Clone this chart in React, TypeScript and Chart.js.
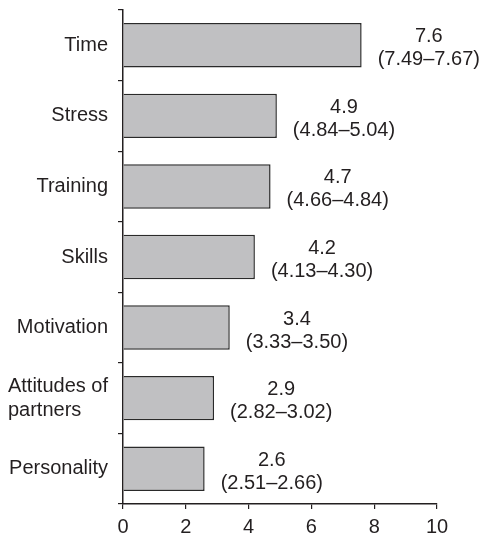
import React, { useEffect, useRef } from "react";
import { Chart, registerables } from "chart.js";

Chart.register(...registerables);

const categories: (string | string[])[] = [
  "Time",
  "Stress",
  "Training",
  "Skills",
  "Motivation",
  ["Attitudes of", "partners"],
  "Personality",
];
const values = [7.6, 4.9, 4.7, 4.2, 3.4, 2.9, 2.6];
const ranges = [
  "(7.49–7.67)",
  "(4.84–5.04)",
  "(4.66–4.84)",
  "(4.13–4.30)",
  "(3.33–3.50)",
  "(2.82–3.02)",
  "(2.51–2.66)",
];
const xTicks = [0, 2, 4, 6, 8, 10];

const FONT = "'Liberation Sans', Arial, Helvetica, sans-serif";
const TEXT = "#231f20";
const FS = 20;

const labelPlugin = {
  id: "valueLabels",
  afterDatasetsDraw(chart: any) {
    const ctx = chart.ctx;
    const meta = chart.getDatasetMeta(0);
    ctx.save();
    ctx.font = `${FS}px ${FONT}`;
    ctx.fillStyle = TEXT;
    ctx.textAlign = "center";
    ctx.textBaseline = "middle";
    meta.data.forEach((bar: any, i: number) => {
      const w = ctx.measureText(ranges[i]).width;
      const cx = bar.x + 16 + w / 2;
      ctx.fillText(String(values[i]), cx, bar.y - 8.5);
      ctx.fillText(ranges[i], cx, bar.y + 14.5);
    });
    ctx.restore();
  },
};

const categoryLabelPlugin = {
  id: "categoryLabels",
  afterDraw(chart: any) {
    const ctx = chart.ctx;
    const yScale = chart.scales.y;
    const right = yScale.right - 15;
    const lh = 24;
    ctx.save();
    ctx.font = `${FS}px ${FONT}`;
    ctx.fillStyle = TEXT;
    ctx.textAlign = "left";
    ctx.textBaseline = "middle";
    categories.forEach((lab, i) => {
      const lines = Array.isArray(lab) ? lab : [lab];
      const bw = Math.max(...lines.map((l) => ctx.measureText(l).width));
      const y = yScale.getPixelForTick(i);
      const y0 = y - ((lines.length - 1) * lh) / 2;
      lines.forEach((l, k) => ctx.fillText(l, right - bw, y0 + k * lh));
    });
    ctx.restore();
  },
};

export default function App() {
  const ref = useRef<HTMLCanvasElement>(null);
  useEffect(() => {
    if (!ref.current) return;
    const chart = new Chart(ref.current, {
      type: "bar",
      data: {
        labels: categories,
        datasets: [
          {
            data: values,
            backgroundColor: "#c0c0c2",
            borderColor: "#2a2a2a",
            borderWidth: 1.5,
            barPercentage: 0.63,
            categoryPercentage: 1,
          },
        ],
      },
      options: {
        indexAxis: "y",
        responsive: false,
        animation: false,
        layout: { padding: { top: 10, right: 43, left: 0, bottom: 0 } },
        plugins: { legend: { display: false }, tooltip: { enabled: false } },
        scales: {
          x: {
            type: "linear",
            min: 0,
            max: 10,
            afterBuildTicks(axis: any) {
              axis.ticks = xTicks.map((v) => ({ value: v }));
            },
            afterFit(axis: any) {
              axis.height = 32;
            },
            grid: {
              drawOnChartArea: false,
              drawTicks: true,
              tickLength: 5,
              color: TEXT,
              lineWidth: 1.2,
            },
            border: { display: true, color: TEXT, width: 1.5 },
            ticks: {
              color: TEXT,
              font: { family: FONT, size: FS },
              padding: 6,
              maxRotation: 0,
            },
          },
          y: {
            type: "category",
            offset: true,
            afterFit(axis: any) {
              axis.width = 123;
              axis.paddingTop = 0;
              axis.paddingBottom = 0;
            },
            grid: {
              offset: true,
              drawOnChartArea: false,
              drawTicks: true,
              tickLength: 5,
              color: TEXT,
              lineWidth: 1.2,
            },
            border: { display: true, color: TEXT, width: 1.5 },
            ticks: {
              display: false,
            },
          },
        },
      },
      plugins: [labelPlugin, categoryLabelPlugin],
    });
    return () => chart.destroy();
  }, []);
  return (
    <div style={{ position: "absolute", left: 0, top: 0, width: 480, height: 536 }}>
      <canvas ref={ref} width={480} height={536} style={{ display: "block" }} />
    </div>
  );
}
